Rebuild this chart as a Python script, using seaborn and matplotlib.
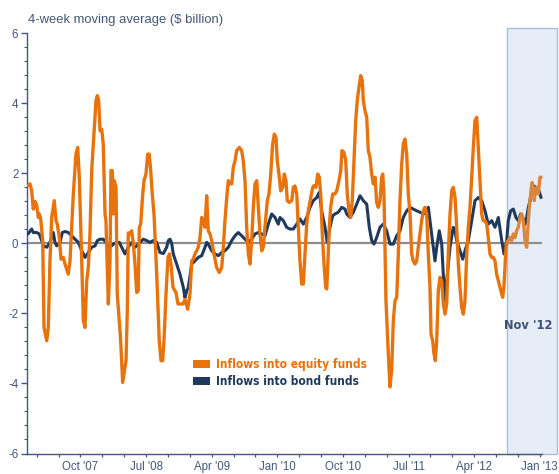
import matplotlib
matplotlib.use("Agg")
import matplotlib.pyplot as plt
import seaborn as sns
import pandas as pd
import numpy as np
from matplotlib.patches import Rectangle, Patch
from matplotlib import font_manager
from matplotlib.font_manager import FontProperties
from matplotlib.ticker import FixedLocator, FuncFormatter

# ---------------- data (decimal years, $ billion) ----------------
equity_years = [
    2007.151, 2007.174, 2007.193, 2007.211, 2007.231, 2007.250, 2007.269, 2007.280, 2007.296, 2007.319,
    2007.334, 2007.365, 2007.383, 2007.402, 2007.422, 2007.440, 2007.451, 2007.471, 2007.486, 2007.509,
    2007.528, 2007.554, 2007.574, 2007.611, 2007.631, 2007.669, 2007.699, 2007.719, 2007.737, 2007.765,
    2007.783, 2007.802, 2007.822, 2007.840, 2007.859, 2007.879, 2007.905, 2007.928, 2007.943, 2007.959,
    2007.974, 2007.993, 2008.011, 2008.031, 2008.042, 2008.050, 2008.069, 2008.088, 2008.099, 2008.114,
    2008.126, 2008.137, 2008.157, 2008.171, 2008.208, 2008.233, 2008.248, 2008.271, 2008.286, 2008.297,
    2008.317, 2008.336, 2008.354, 2008.374, 2008.393, 2008.411, 2008.423, 2008.439, 2008.462, 2008.477,
    2008.499, 2008.519, 2008.537, 2008.553, 2008.571, 2008.591, 2008.622, 2008.651, 2008.671, 2008.690,
    2008.705, 2008.728, 2008.751, 2008.768, 2008.785, 2008.808, 2008.842, 2008.865, 2008.922, 2008.945,
    2008.976, 2009.002, 2009.022, 2009.040, 2009.059, 2009.079, 2009.097, 2009.117, 2009.136, 2009.154,
    2009.174, 2009.193, 2009.211, 2009.231, 2009.250, 2009.269, 2009.307, 2009.337, 2009.365, 2009.383,
    2009.402, 2009.422, 2009.440, 2009.459, 2009.479, 2009.497, 2009.517, 2009.536, 2009.566, 2009.593,
    2009.611, 2009.631, 2009.650, 2009.669, 2009.688, 2009.707, 2009.726, 2009.745, 2009.765, 2009.783,
    2009.802, 2009.822, 2009.840, 2009.859, 2009.886, 2009.905, 2009.925, 2009.947, 2009.966, 2009.985,
    2010.000, 2010.023, 2010.039, 2010.062, 2010.080, 2010.099, 2010.114, 2010.137, 2010.165, 2010.183,
    2010.202, 2010.222, 2010.240, 2010.259, 2010.279, 2010.297, 2010.317, 2010.336, 2010.354, 2010.382,
    2010.405, 2010.419, 2010.442, 2010.462, 2010.480, 2010.496, 2010.514, 2010.534, 2010.553, 2010.565,
    2010.579, 2010.594, 2010.610, 2010.633, 2010.659, 2010.679, 2010.705, 2010.725, 2010.739, 2010.762,
    2010.782, 2010.800, 2010.819, 2010.839, 2010.857, 2010.877, 2010.896, 2010.914, 2010.934, 2010.953,
    2010.971, 2010.983, 2011.002, 2011.022, 2011.040, 2011.059, 2011.079, 2011.097, 2011.117, 2011.136,
    2011.154, 2011.174, 2011.193, 2011.205, 2011.219, 2011.242, 2011.269, 2011.288, 2011.307, 2011.326,
    2011.345, 2011.365, 2011.383, 2011.402, 2011.422, 2011.440, 2011.459, 2011.479, 2011.497, 2011.517,
    2011.536, 2011.554, 2011.574, 2011.593, 2011.611, 2011.631, 2011.650, 2011.669, 2011.688, 2011.707,
    2011.726, 2011.745, 2011.757, 2011.776, 2011.791, 2011.806, 2011.822, 2011.840, 2011.859, 2011.879,
    2011.897, 2011.917, 2011.936, 2011.954, 2011.974, 2011.993, 2012.011, 2012.031, 2012.050, 2012.069,
    2012.088, 2012.107, 2012.126, 2012.145, 2012.165, 2012.183, 2012.202, 2012.222, 2012.240, 2012.259,
    2012.279, 2012.297, 2012.317, 2012.336, 2012.354, 2012.374, 2012.393, 2012.411, 2012.431, 2012.450,
    2012.469, 2012.488, 2012.507, 2012.526, 2012.545, 2012.565, 2012.576, 2012.591, 2012.614, 2012.629,
    2012.640, 2012.659, 2012.679, 2012.697, 2012.717, 2012.736, 2012.754, 2012.774, 2012.793, 2012.811,
    2012.831, 2012.850, 2012.869, 2012.880, 2012.896, 2012.911, 2012.926, 2012.937, 2012.949, 2012.965,
    2012.983, 2013.002, 2013.014,
]
equity_values = [
    1.65, 1.70, 1.50, 0.98, 1.20, 1.10, 0.74, 0.84, 0.70, 0.08,
    -2.40, -2.78, -2.40, -0.50, 0.74, 1.03, 1.22, 0.65, 0.55, 0.17,
    -0.45, -0.40, -0.59, -0.88, -0.50, 1.41, 2.55, 2.74, 1.90, -0.50,
    -2.20, -2.40, -1.07, -0.69, 0.27, 2.08, 3.12, 4.08, 4.22, 4.08,
    3.22, 3.26, 2.84, 0.84, 0.65, -0.11, -1.73, -0.50, 2.08, 2.08,
    0.84, 1.79, 1.60, -1.45, -2.69, -3.97, -3.73, -3.35, -1.90, 0.30,
    0.27, 0.36, 0.00, -0.59, -1.40, -1.35, 0.46, 0.55, 1.41, 1.79,
    1.98, 2.55, 2.55, 2.08, 1.41, 0.84, -0.88, -2.78, -3.35, -3.35,
    -2.78, -1.45, -0.40, -0.30, -0.60, -1.26, -1.40, -1.73, -1.73, -1.60,
    -1.88, -1.45, -0.50, -0.45, -0.30, -0.21, -0.11, 0.17, 0.74, 0.65,
    0.46, 1.36, 0.36, 0.27, 0.08, -0.21, -0.69, -0.83, -0.69, -0.11,
    0.65, 1.31, 1.79, 1.70, 1.70, 2.17, 2.36, 2.65, 2.74, 2.65,
    2.36, 1.79, 0.46, -0.30, -0.59, 0.08, 1.03, 1.70, 1.79, 1.03,
    0.27, -0.21, -0.11, 0.46, 1.22, 1.41, 1.98, 2.84, 3.12, 3.03,
    2.36, 1.89, 1.50, 1.60, 1.98, 1.79, 1.22, 1.17, 1.22, 1.60,
    1.64, 1.41, 0.46, -0.50, -1.16, -1.16, -0.31, 0.55, 0.93, 1.31,
    1.60, 1.65, 1.60, 1.98, 1.89, 1.41, 0.27, -0.59, -1.26, -1.30,
    -0.50, 0.46, 1.03, 1.41, 1.41, 1.50, 1.79, 2.08, 2.65, 2.60,
    2.36, 1.41, 0.93, 0.74, 1.22, 2.36, 3.50, 4.08, 4.46, 4.79,
    4.65, 4.08, 3.79, 3.60, 2.65, 2.46, 1.98, 1.70, 1.89, 1.17,
    1.03, 1.22, 1.89, 1.98, 1.41, -1.64, -3.16, -4.10, -3.62, -2.21,
    -1.64, -1.54, -0.30, 1.22, 2.27, 2.84, 2.98, 2.55, 1.41, 0.84,
    -0.30, -0.50, -0.59, -0.50, -0.11, 0.27, 0.65, 0.93, 1.03, 0.84,
    -0.30, -1.26, -2.59, -2.78, -3.16, -3.35, -2.78, -1.35, -0.97, -1.07,
    -1.73, -2.02, -1.73, -0.30, 0.84, 1.50, 1.60, 1.31, 0.46, -0.59,
    -1.26, -1.83, -2.02, -1.64, -0.30, 0.46, 1.03, 1.89, 2.74, 3.50,
    3.60, 2.74, 1.79, 0.84, 0.65, 0.65, 0.55, 0.17, -0.30, -0.40,
    -0.40, -0.50, -0.88, -1.07, -1.26, -1.45, -1.54, -1.20, -0.11, 0.05,
    0.08, 0.17, 0.08, 0.27, 0.17, 0.36, 0.46, 0.74, 0.84, 0.65,
    0.08, -0.11, 0.65, 1.03, 1.41, 1.74, 1.60, 1.22, 1.50, 1.60,
    1.41, 1.89, 1.89,
]

bond_years = [
    2007.151, 2007.193, 2007.211, 2007.250, 2007.280, 2007.307, 2007.326, 2007.365, 2007.402, 2007.440,
    2007.459, 2007.479, 2007.517, 2007.543, 2007.574, 2007.611, 2007.650, 2007.688, 2007.726, 2007.765,
    2007.802, 2007.840, 2007.879, 2007.917, 2007.943, 2007.974, 2008.011, 2008.042, 2008.069, 2008.107,
    2008.126, 2008.165, 2008.194, 2008.222, 2008.259, 2008.297, 2008.336, 2008.374, 2008.393, 2008.431,
    2008.469, 2008.507, 2008.545, 2008.583, 2008.622, 2008.659, 2008.697, 2008.736, 2008.754, 2008.774,
    2008.793, 2008.811, 2008.850, 2008.888, 2008.926, 2008.945, 2008.965, 2008.983, 2009.022, 2009.059,
    2009.097, 2009.136, 2009.174, 2009.193, 2009.211, 2009.250, 2009.288, 2009.326, 2009.365, 2009.402,
    2009.440, 2009.479, 2009.517, 2009.554, 2009.593, 2009.631, 2009.669, 2009.707, 2009.745, 2009.783,
    2009.822, 2009.859, 2009.897, 2009.936, 2009.974, 2010.011, 2010.031, 2010.069, 2010.107, 2010.145,
    2010.183, 2010.222, 2010.259, 2010.297, 2010.336, 2010.374, 2010.411, 2010.450, 2010.480, 2010.507,
    2010.545, 2010.571, 2010.602, 2010.633, 2010.659, 2010.697, 2010.736, 2010.774, 2010.793, 2010.831,
    2010.869, 2010.907, 2010.945, 2010.983, 2011.022, 2011.051, 2011.079, 2011.105, 2011.136, 2011.174,
    2011.211, 2011.250, 2011.288, 2011.326, 2011.365, 2011.402, 2011.440, 2011.479, 2011.517, 2011.554,
    2011.593, 2011.631, 2011.669, 2011.707, 2011.726, 2011.745, 2011.765, 2011.783, 2011.802, 2011.822,
    2011.851, 2011.879, 2011.897, 2011.917, 2011.936, 2011.974, 2012.011, 2012.031, 2012.050, 2012.088,
    2012.119, 2012.145, 2012.183, 2012.222, 2012.259, 2012.297, 2012.336, 2012.374, 2012.411, 2012.450,
    2012.488, 2012.526, 2012.565, 2012.591, 2012.622, 2012.640, 2012.667, 2012.697, 2012.728, 2012.754,
    2012.782, 2012.805, 2012.831, 2012.850, 2012.869, 2012.888, 2012.907, 2012.926, 2012.957, 2012.983,
    2013.002, 2013.014,
]
bond_values = [
    0.27, 0.41, 0.31, 0.31, 0.27, 0.08, -0.07, -0.11, 0.03, 0.31,
    0.03, -0.07, 0.03, 0.31, 0.34, 0.31, 0.22, 0.12, 0.03, -0.21,
    -0.40, -0.26, -0.11, -0.07, 0.08, 0.12, 0.12, 0.03, -0.11, -0.07,
    -0.02, 0.03, 0.03, -0.11, -0.30, -0.11, 0.03, -0.11, -0.07, 0.03,
    0.12, 0.08, 0.03, 0.08, 0.03, -0.26, -0.29, -0.11, 0.08, 0.12,
    0.00, -0.30, -0.59, -0.88, -1.26, -1.55, -1.35, -1.26, -0.59, -0.50,
    -0.40, -0.35, -0.11, 0.03, -0.02, -0.21, -0.30, -0.35, -0.26, -0.21,
    -0.11, 0.08, 0.22, 0.31, 0.22, 0.12, 0.03, 0.12, 0.27, 0.31,
    0.27, 0.22, 0.55, 0.84, 0.74, 0.55, 0.74, 0.65, 0.46, 0.41,
    0.41, 0.55, 0.70, 0.55, 0.74, 1.03, 1.22, 1.31, 1.46, 0.93,
    0.46, 0.03, 0.46, 0.79, 0.84, 0.89, 1.03, 0.98, 0.84, 0.74,
    0.89, 1.12, 1.36, 1.22, 1.12, 0.46, 0.08, -0.02, 0.17, 0.46,
    0.55, 0.36, -0.02, -0.02, 0.22, 0.36, 0.74, 0.93, 1.03, 0.98,
    0.93, 0.89, 0.84, 0.89, 1.03, 0.65, 0.27, -0.11, -0.50, -0.11,
    0.36, -0.02, -0.88, -1.64, -1.07, -0.11, 0.46, 0.36, 0.08, -0.21,
    -0.45, -0.21, 0.08, 0.65, 1.22, 1.31, 1.22, 0.93, 0.55, 0.65,
    0.46, 0.74, 0.08, -0.30, 0.08, 0.65, 0.93, 0.98, 0.74, 0.65,
    0.84, 0.74, 0.55, 0.74, 1.03, 1.22, 1.50, 1.65, 1.60, 1.55,
    1.41, 1.31,
]

series_labels = ["Inflows into equity funds", "Inflows into bond funds"]
x_tick_years = [2007.75, 2008.5, 2009.25, 2010.0, 2010.75, 2011.5, 2012.25, 2013.0]
x_tick_labels = ["Oct '07", "Jul '08", "Apr '09", "Jan '10", "Oct '10", "Jul '11", "Apr '12", "Jan '13"]
y_ticks = [-6, -4, -2, 0, 2, 4, 6]
highlight_start = 2012.629
highlight_label = "Nov '12"
title_text = "4-week moving average ($ billion)"

assert len(equity_years) == len(equity_values)
assert len(bond_years) == len(bond_values)

# ---------------- style ----------------
sns.set_theme(style="white")
plt.rcParams["font.family"] = ["Liberation Sans", "DejaVu Sans"]
plt.rcParams["axes.unicode_minus"] = False


def condensed_bold(size):
    """Find a condensed/narrow bold face; fall back to a regular bold."""
    wanted = ["Liberation Sans Narrow", "Roboto Condensed", "Open Sans Condensed",
              "DejaVu Sans Condensed", "Noto Sans Condensed"]
    cands = []
    for f in font_manager.fontManager.ttflist:
        w = f.weight if isinstance(f.weight, int) else (700 if "bold" in str(f.weight).lower() else 400)
        narrow = (f.name in wanted) or ("condensed" in str(f.stretch).lower()) or \
                 ("condensed" in f.fname.lower()) or ("narrow" in f.fname.lower())
        if narrow and w >= 600 and f.style == "normal" and "semi" not in str(f.stretch).lower():
            cands.append(f)
    if cands:
        pref = sorted(cands, key=lambda f: (0 if "Liberation" in f.name else
                                            1 if "DejaVu" in f.name else 2))
        return FontProperties(fname=pref[0].fname, size=size), True
    return FontProperties(family="Liberation Sans", weight="bold", size=size * 1.05), False


TEXT = "#44577A"
ORANGE = "#E8720C"
ORANGE_LIGHT = "#DA8641"
NAVY = "#1F3A5C"
X0, X1 = 2007.136, 2013.2

fig = plt.figure(figsize=(5.59, 4.74), dpi=100)
ax = fig.add_axes([26.7 / 559, (474 - 453.5) / 474, (557.3 - 26.7) / 559, (453.5 - 33.3) / 474])
ax.set_xlim(X0, X1)
ax.set_ylim(-6, 6)

# highlighted period
ax.add_patch(Rectangle((highlight_start, -6), X1 - highlight_start, 12.14,
                       facecolor="#E6EDF6", edgecolor="#A9BEDA", lw=1.0,
                       clip_on=False, zorder=0))

# zero line
ax.plot([X0, 2013.03], [0, 0], color="#8E8E8E", lw=1.6, zorder=2, solid_capstyle="butt")

bond = pd.DataFrame({"year": bond_years, "value": bond_values})
eq = pd.DataFrame({"year": equity_years, "value": equity_values})
eq_main = eq[eq["year"] <= highlight_start]
eq_late = eq[eq["year"] >= highlight_start]

sns.lineplot(data=bond, x="year", y="value", color=NAVY, lw=2.2, ax=ax,
             sort=False, estimator=None, zorder=3)
sns.lineplot(data=eq_main, x="year", y="value", color=ORANGE, lw=2.4, ax=ax,
             sort=False, estimator=None, zorder=4)
sns.lineplot(data=eq_late, x="year", y="value", color=ORANGE_LIGHT, lw=2.4, ax=ax,
             sort=False, estimator=None, zorder=4)

ax.set_xlabel("")
ax.set_ylabel("")

# spines
for s in ["top", "right"]:
    ax.spines[s].set_visible(False)
for s in ["left", "bottom"]:
    ax.spines[s].set_color(TEXT)
    ax.spines[s].set_linewidth(1.0)
ax.spines["bottom"].set_bounds(X0, 2013.02)
ax.spines["bottom"].set_zorder(5)

# y ticks
ax.yaxis.set_major_locator(FixedLocator(y_ticks))
ax.yaxis.set_minor_locator(FixedLocator(np.round(np.arange(-6, 6.01, 0.4), 2)))
ax.tick_params(axis="y", which="major", direction="out", length=4, width=1,
               color=TEXT, labelsize=8.3, labelcolor=TEXT, pad=2, left=True)
ax.tick_params(axis="y", which="minor", direction="out", length=2.3, width=0.8,
               color=TEXT, left=True)

# x ticks: quarterly small ticks, labels every 9 months, longer ticks every 2 years
quarters = np.round(np.arange(2007.25, 2013.001, 0.25), 2)
label_map = {round(k, 2): v for k, v in zip(x_tick_years, x_tick_labels)}
ax.xaxis.set_major_locator(FixedLocator(quarters))
ax.xaxis.set_major_formatter(FuncFormatter(lambda v, p: label_map.get(round(v, 2), "")))
ax.xaxis.set_minor_locator(FixedLocator([2008.0, 2010.0, 2012.0]))
ax.tick_params(axis="x", which="major", direction="out", length=2.3, width=0.9,
               color=TEXT, labelsize=8.3, labelcolor=TEXT, pad=3, bottom=True)
ax.tick_params(axis="x", which="minor", direction="out", length=4.2, width=1.0,
               color=TEXT, bottom=True)

# title
fig.text(28 / 559, 1 - 23.5 / 474, title_text, ha="left", va="baseline",
         fontsize=9.4, color=TEXT)

# highlight label
nov_fp, _ = condensed_bold(9.2)
ax.text(2012.871, -2.35, highlight_label, ha="center", va="center",
        fontproperties=nov_fp, color="#3E5174")

# legend
leg_fp, is_narrow = condensed_bold(8.6)
handles = [Patch(facecolor=ORANGE, edgecolor="none"), Patch(facecolor=NAVY, edgecolor="none")]
leg = ax.legend(handles, series_labels, loc="upper left",
                bbox_to_anchor=(193 / 559, 1 - 358 / 474), bbox_transform=fig.transFigure,
                frameon=False, prop=leg_fp,
                handlelength=1.43, handleheight=0.67, handletextpad=0.48,
                labelspacing=0.35, borderpad=0, borderaxespad=0,
                labelcolor=[ORANGE, NAVY])

fig.savefig("out.png", dpi=100)
